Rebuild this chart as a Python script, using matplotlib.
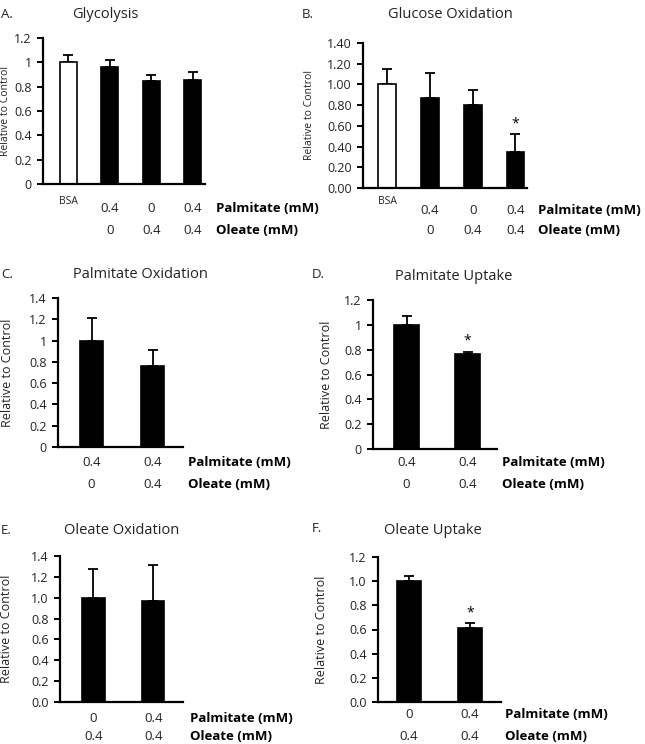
import matplotlib
matplotlib.use("Agg")
import matplotlib.pyplot as plt
import numpy as np

plt.rcParams['font.family'] = ['Open Sans', 'DejaVu Sans']

W, H = 645, 744

# ---- data ----
glyc_vals = [1.00, 0.965, 0.85, 0.855]
glyc_err = [0.06, 0.055, 0.045, 0.065]
gox_vals = [1.00, 0.87, 0.80, 0.35]
gox_err = [0.15, 0.24, 0.15, 0.17]
pox_vals = [1.00, 0.76]
pox_err = [0.21, 0.15]
pup_vals = [1.00, 0.765]
pup_err = [0.075, 0.02]
oox_vals = [1.00, 0.965]
oox_err = [0.28, 0.345]
oup_vals = [1.00, 0.61]
oup_err = [0.045, 0.045]

palm4 = ['', '0.4', '0', '0.4']
ole4 = ['', '0', '0.4', '0.4']
palm_cd = ['0.4', '0.4']
ole_cd = ['0', '0.4']
palm_ef = ['0', '0.4']
ole_ef = ['0.4', '0.4']


def px_axes(left, top, right, bottom):
    return [left / W, 1 - bottom / H, (right - left) / W, (bottom - top) / H]


def panel(rect, vals, err, colors, xlim, width, ymax, yticks, yfmt,
          palm, ole, offs, lab_gap, ylab_x, ylab_size, star=None, bsa_off=None):
    ax = fig.add_axes(px_axes(*rect))
    x = np.arange(len(vals))
    ax.bar(x, vals, width, color=colors, edgecolor='black', linewidth=1.2, zorder=2)
    ax.errorbar(x, vals, yerr=[np.zeros(len(err)), err], fmt='none', ecolor='black',
                elinewidth=1.3, capsize=3.5, capthick=1.3, zorder=1)
    ax.set_xlim(*xlim)
    ax.set_ylim(0, ymax)
    ax.set_yticks(yticks)
    ax.set_yticklabels([yfmt(v) for v in yticks], fontsize=9, color='#222222')
    ax.set_xticks([])
    for s in ['top', 'right']:
        ax.spines[s].set_visible(False)
    for s in ['left', 'bottom']:
        ax.spines[s].set_linewidth(1.6)
    ax.tick_params(axis='y', direction='out', length=4, width=1.4, pad=4)
    ax.set_ylabel('Relative to Control', fontsize=ylab_size, color='#222222')
    ax.yaxis.set_label_coords(ylab_x, 0.5)
    pt = 0.72
    for xi, p, o in zip(x, palm, ole):
        ax.annotate(p, (xi, 0), xycoords=('data', 'axes fraction'),
                    xytext=(0, -offs[0] * pt), textcoords='offset points',
                    ha='center', va='center', fontsize=9.5, color='#222222')
        ax.annotate(o, (xi, 0), xycoords=('data', 'axes fraction'),
                    xytext=(0, -offs[1] * pt), textcoords='offset points',
                    ha='center', va='center', fontsize=9.5, color='#222222')
    if bsa_off is not None:
        ax.annotate('BSA', (0, 0), xycoords=('data', 'axes fraction'),
                    xytext=(0, -bsa_off * pt), textcoords='offset points',
                    ha='center', va='center', fontsize=7.5, color='#222222')
    for yo, txt in zip(offs, ['Palmitate (mM)', 'Oleate (mM)']):
        ax.annotate(txt, (1, 0), xycoords='axes fraction',
                    xytext=(lab_gap * pt, -yo * pt), textcoords='offset points',
                    ha='left', va='center', fontsize=9.5, fontweight='bold')
    if star is not None:
        ax.annotate('*', (star, vals[star] + err[star]), xytext=(0, 2),
                    textcoords='offset points', ha='center', va='bottom',
                    fontsize=10)
    return ax


fig = plt.figure(figsize=(W / 100, H / 100), dpi=100)

f1 = lambda v: '%g' % v
f2 = lambda v: '%.2f' % v
f10 = lambda v: '%.1f' % v

black4 = ['white', 'black', 'black', 'black']

panel((43, 38, 205, 184), glyc_vals, glyc_err, black4, (-0.61, 3.29), 0.41, 1.2,
      np.arange(0, 1.21, 0.2), f1, palm4, ole4, (25, 47), 11, -0.20, 7.5, bsa_off=18)
panel((363, 43, 527, 188), gox_vals, gox_err, black4, (-0.57, 3.27), 0.42, 1.4,
      np.arange(0, 1.41, 0.2), f2, palm4, ole4, (22, 43), 11, -0.295, 7.5, star=3, bsa_off=14)
panel((58, 298, 183, 447), pox_vals, pox_err, ['black'] * 2, (-0.55, 1.5), 0.38, 1.4,
      np.arange(0, 1.41, 0.2), f1, palm_cd, ole_cd, (15, 38), 5, -0.35, 9.0)
panel((373, 300, 497, 449), pup_vals, pup_err, ['black'] * 2, (-0.55, 1.48), 0.41, 1.2,
      np.arange(0, 1.21, 0.2), f1, palm_cd, ole_cd, (13, 35), 5, -0.32, 9.0, star=1)
panel((60, 556, 183, 702), oox_vals, oox_err, ['black'] * 2, (-0.56, 1.5), 0.38, 1.4,
      np.arange(0, 1.41, 0.2), f10, palm_ef, ole_ef, (16, 35), 7, -0.38, 9.0)
panel((378, 557, 501, 702), oup_vals, oup_err, ['black'] * 2, (-0.51, 1.51), 0.39, 1.2,
      np.arange(0, 1.21, 0.2), f10, palm_ef, ole_ef, (12, 34), 4, -0.41, 9.0, star=1)

# titles and panel letters (pixel positions)
titles = [('Glycolysis', 105, 15), ('Glucose Oxidation', 450, 15),
          ('Palmitate Oxidation', 140, 275), ('Palmitate Uptake', 454, 277),
          ('Oleate Oxidation', 122, 531), ('Oleate Uptake', 433, 530)]
for t, x, y in titles:
    fig.text(x / W, 1 - y / H, t, ha='center', va='center', fontsize=10.5, color='#222222')
letters = [('A.', 1, 15), ('B.', 302, 15), ('C.', 1, 275), ('D.', 312, 275),
           ('E.', 1, 530), ('F.', 312, 529)]
for t, x, y in letters:
    fig.text(x / W, 1 - y / H, t, ha='left', va='center', fontsize=9.5, color='#222222')

fig.savefig('out.png', dpi=100)
